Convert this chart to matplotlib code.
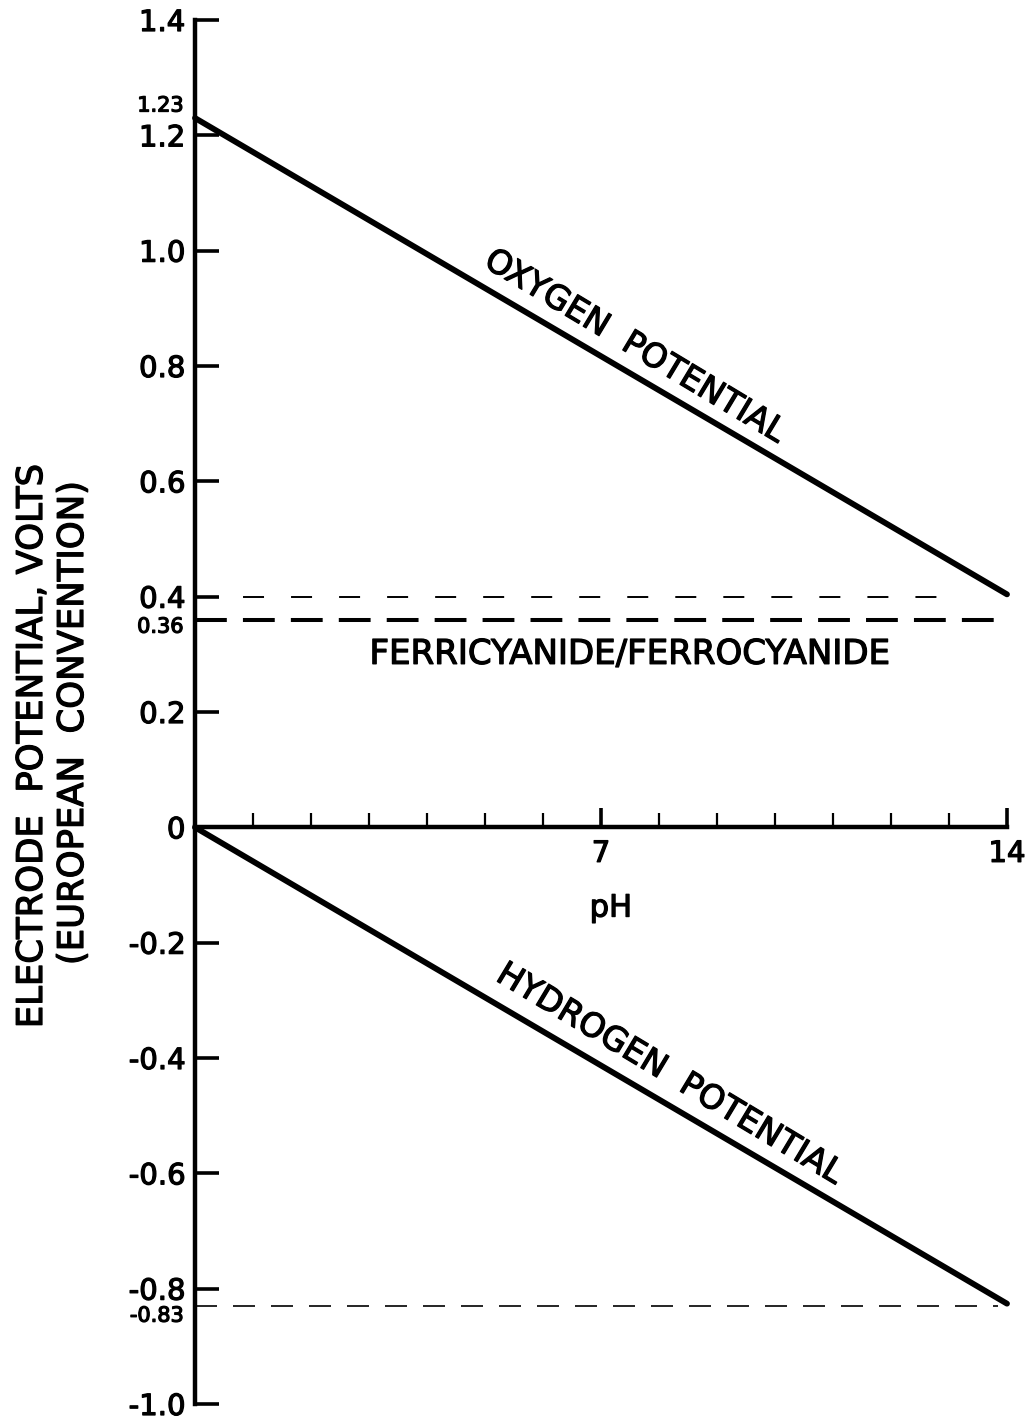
import numpy as np
import matplotlib.pyplot as plt
from matplotlib import transforms
import matplotlib.patheffects as pe

# data
ph = [0, 14]
oxygen_v = [1.23, 0.404]
hydrogen_v = [0.0, -0.826]

yticks = [1.4, 1.2, 1.0, 0.8, 0.6, 0.4, 0.2, 0, -0.2, -0.4, -0.6, -0.8, -1.0]
ytick_labels = ['1.4', '1.2', '1.0', '0.8', '0.6', '0.4', '0.2', '0',
                '-0.2', '-0.4', '-0.6', '-0.8', '-1.0']
xticks_major = [7, 14]
xticks_minor = [1, 2, 3, 4, 5, 6, 8, 9, 10, 11, 12, 13]

# reference levels: value, end pH
ref_vals = [0.40, 0.36, -0.83]
ref_ends = [13.05, 14.0, 13.85]
special_vals = [1.23, 0.36, -0.83]
special_labels = ['1.23', '0.36', '-0.83']
special_offsets = [9, -5, -7]  # points, keeps them clear of the neighbour tick labels

plt.rcParams['font.family'] = 'DejaVu Sans'
heavy = [pe.withStroke(linewidth=0.9, foreground='black')]

fig = plt.figure(figsize=(10.32, 14.21), dpi=100)
ax = fig.add_axes([195 / 1032, 1 - 1404 / 1421, 812 / 1032, 1384 / 1421])
ax.set_xlim(0, 14)
ax.set_ylim(-1.0, 1.4)

for s in ['top', 'right']:
    ax.spines[s].set_visible(False)
ax.spines['bottom'].set_position(('data', 0))
ax.spines['left'].set_linewidth(3.2)
ax.spines['bottom'].set_linewidth(3.2)

ax.set_yticks(yticks)
ax.set_yticklabels(ytick_labels, fontsize=21)
ax.tick_params(axis='y', direction='in', length=17, width=2.6, pad=7)

ax.set_xticks(xticks_major)
ax.set_xticklabels([str(v) for v in xticks_major], fontsize=21)
ax.set_xticks(xticks_minor, minor=True)
ax.tick_params(axis='x', which='major', direction='in', length=14, width=2.6, pad=9)
ax.tick_params(axis='x', which='minor', direction='in', length=10, width=1.6)
for lab in ax.get_xticklabels() + ax.get_yticklabels():
    lab.set_path_effects(heavy)

ax.plot(ph, oxygen_v, color='black', lw=4.2, solid_capstyle='round', clip_on=False)
ax.plot(ph, hydrogen_v, color='black', lw=4.2, solid_capstyle='round', clip_on=False)

styles = [dict(lw=1.4, dashes=(10.8, 13.9)),
          dict(lw=2.9, dashes=(7.9, 4.0)),
          dict(lw=1.2, dashes=(13.2, 9.6))]
for v, xe, st in zip(ref_vals, ref_ends, styles):
    ax.plot([0, xe], [v, v], color='black', **st)

trans = transforms.blended_transform_factory(ax.transAxes, ax.transData)
for v, lab, off in zip(special_vals, special_labels, special_offsets):
    t = trans + transforms.ScaledTranslation(0, off / 72, fig.dpi_scale_trans)
    ax.text(-0.014, v, lab, transform=t, ha='right', va='center', fontsize=15,
            path_effects=heavy)

ax.text(7.59, 0.834, 'OXYGEN  POTENTIAL', rotation=-31, rotation_mode='anchor',
        ha='center', va='center', fontsize=24, path_effects=heavy)
ax.text(8.19, -0.428, 'HYDROGEN  POTENTIAL', rotation=-31, rotation_mode='anchor',
        ha='center', va='center', fontsize=24, path_effects=heavy)
ax.text(7.5, 0.30, 'FERRICYANIDE/FERROCYANIDE', ha='center', va='center',
        fontsize=24.5, path_effects=heavy)
ax.text(7.17, -0.14, 'pH', ha='center', va='center', fontsize=22, path_effects=heavy)

fig.text(32 / 1032, 1 - 746 / 1421, 'ELECTRODE  POTENTIAL, VOLTS', rotation=90,
         ha='center', va='center', fontsize=25.5, path_effects=heavy)
fig.text(73 / 1032, 1 - 723 / 1421, '(EUROPEAN  CONVENTION)', rotation=90,
         ha='center', va='center', fontsize=25.5, path_effects=heavy)

fig.savefig('out.png', dpi=100)
